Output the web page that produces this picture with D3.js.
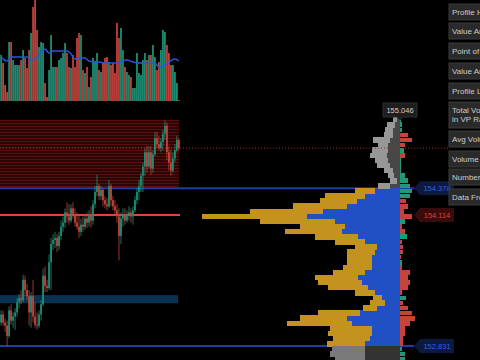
<!DOCTYPE html>
<html>
<head>
<meta charset="utf-8">
<script src="https://cdn.jsdelivr.net/npm/d3@7"></script>
<style>
html, body { margin: 0; padding: 0; background: #000; overflow: hidden; }
svg { display: block; font-family: "Liberation Sans", Arial, sans-serif; }
</style>
</head>
<body>
<svg width="480" height="360"></svg>
<script>
const width = 480;
const height = 360;

// candles (price)
const opens = [153.06,153.14,153.06,153.03,152.93,153.18,153.08,153.12,153.16,153.26,
  153.30,153.28,153.48,153.38,153.32,153.16,153.32,153.12,153.04,153.03,
  153.14,153.24,153.52,153.42,153.40,153.65,153.83,153.87,153.89,153.81,
  153.91,154.00,154.04,154.14,154.10,154.06,154.18,154.12,154.04,154.00,
  153.95,154.02,154.00,154.08,154.04,154.12,154.06,154.22,154.34,154.40,
  154.30,154.36,154.26,154.22,154.20,154.40,154.26,154.20,154.16,154.10,
  153.91,154.08,154.12,154.06,154.12,154.14,154.10,154.16,154.26,154.34,
  154.40,154.50,154.59,154.73,154.59,154.73,154.57,154.71,154.87,154.81,
  154.77,154.83,154.91,154.99,154.73,154.63,154.55,154.67,154.75,154.85];
const highs = [153.18,153.18,153.10,153.08,153.22,153.24,153.16,153.20,153.30,153.34,
  153.38,153.53,153.52,153.44,153.38,153.36,153.48,153.26,153.16,153.18,
  153.28,153.59,153.61,153.48,153.73,153.89,153.93,153.95,153.93,153.95,
  154.06,154.10,154.18,154.24,154.22,154.22,154.24,154.18,154.14,154.12,
  154.08,154.10,154.12,154.14,154.16,154.20,154.26,154.40,154.51,154.42,
  154.40,154.38,154.30,154.28,154.46,154.42,154.30,154.26,154.22,154.18,
  154.14,154.18,154.18,154.16,154.20,154.18,154.20,154.30,154.38,154.46,
  154.53,154.63,154.77,154.79,154.79,154.79,154.75,154.93,154.93,154.89,
  154.87,154.95,155.04,155.02,154.79,154.75,154.73,154.81,154.89,154.87];
const lows = [153.03,153.03,152.97,152.83,152.91,153.04,153.01,152.99,153.12,153.20,
  153.24,153.26,153.32,153.28,153.03,153.01,153.06,153.01,152.99,153.01,
  153.08,153.22,153.36,153.36,153.38,153.38,153.77,153.79,153.75,153.77,
  153.87,153.95,153.99,154.04,154.02,154.04,154.08,154.00,153.97,153.89,
  153.91,153.95,153.97,153.99,154.00,153.99,154.02,154.18,154.30,154.26,
  154.26,154.20,154.18,154.16,154.18,154.20,154.16,154.12,154.04,153.67,
  153.83,154.00,154.02,154.04,154.06,154.04,154.02,154.14,154.22,154.26,
  154.34,154.34,154.50,154.53,154.57,154.51,154.53,154.69,154.77,154.75,
  154.73,154.75,154.85,154.65,154.55,154.50,154.53,154.63,154.73,154.75];
const closes = [153.14,153.06,153.03,152.93,153.18,153.08,153.12,153.16,153.26,153.30,
  153.28,153.48,153.38,153.32,153.16,153.32,153.12,153.04,153.03,153.14,
  153.24,153.52,153.42,153.40,153.65,153.83,153.87,153.89,153.81,153.91,
  154.00,154.04,154.14,154.10,154.06,154.18,154.12,154.04,154.00,153.95,
  154.02,154.00,154.08,154.04,154.12,154.06,154.22,154.34,154.40,154.30,
  154.36,154.26,154.22,154.20,154.40,154.26,154.20,154.16,154.10,153.91,
  154.08,154.12,154.06,154.12,154.14,154.10,154.16,154.26,154.34,154.40,
  154.50,154.59,154.73,154.59,154.73,154.57,154.71,154.87,154.81,154.77,
  154.83,154.91,154.99,154.73,154.63,154.55,154.67,154.75,154.85,154.77];

// volume per bar
const volumes = [46,38,16,9,59,59,41,36,36,36,
  41,51,43,33,51,68,94,101,71,54,
  59,58,18,4,31,66,34,34,34,41,
  43,48,58,48,34,33,46,34,63,68,
  66,31,28,34,14,24,43,39,48,31,
  29,38,43,44,39,36,38,28,78,63,
  73,51,34,29,26,24,13,13,48,28,
  26,41,48,41,46,46,56,44,31,39,
  51,71,69,56,48,36,36,29,18,1];

// volume moving average, read at these bars
const maIdx = [0,3,5,10,13,15,18,20,22,24,26,33,35,37,39,42,44,49,53,58,60,63,66,69,74,77,79,82,84,87,89];
const maVal = [44,40,44,44,44,41,44,49,52,48,50,50,47,42,43,43,40,39,38,38,39,41,39,38,38,38,34,36,39,42,40];

// levels
const profileHigh = 155.046;
const vaHigh = 154.378;
const pocPrice = 154.114;
const vaLow = 152.831;
const lastPrice = 154.77;
const supplyZone = [155.05, 154.39];
const demandZone = [153.33, 153.25];

// volume profile rows, top to bottom (14 above VA, 31 in VA, 3 below)
const profUp = [3,5,7,7,10,12,12,13,12,10,7,6,3,10,
  25,35,43,53,77,93,65,55,58,42,35,23,25,28,28,28,35,42,38,32,25,18,15,23,40,53,48,28,28,30,35,
  35,35,35];
const profDown = [4,8,8,9,17,10,16,17,13,13,9,6,7,12,
  20,40,37,54,73,105,75,45,57,43,30,22,28,25,25,29,32,43,44,40,20,9,15,14,42,47,65,42,44,37,38,
  33,35,30];
const profDelta = [1,2,2,-8,-12,-5,4,-5,1,1,1,5,8,10,
  12,10,-6,-8,-4,-12,5,-2,-5,7,-2,-3,-3,-1,2,-2,-10,-8,-10,-8,-2,6,-3,-8,-12,-15,-10,-5,-5,-3,-3,
  2,5,5];

const tableLabels = [["Profile High"], ["Value Area High"], ["Point of Control"], ["Value Area Low"],
  ["Profile Low"], ["Total Volume", "in VP Range"], ["Avg Volume/Bar"], ["Volume Analysis"],
  ["Number of Bars"], ["Data From"]];

const UP = "#1e8f74", DOWN = "#c4433b";

const svg = d3.select("svg").attr("viewBox", [0, 0, width, height]);
svg.append("rect").attr("width", width).attr("height", height).attr("fill", "#000");

const idx = d3.range(closes.length);
const x = d3.scaleBand().domain(idx).range([0, 180]).padding(0.12);
const y = d3.scaleLinear().domain([vaLow, profileHigh]).range([346, 120]);
const yVol = d3.scaleLinear().domain([0, 101]).range([101, 0]);

// volume panel
svg.append("g").selectAll("rect")
  .data(idx)
  .join("rect")
  .attr("x", i => x(i))
  .attr("y", i => yVol(volumes[i]))
  .attr("width", x.bandwidth())
  .attr("height", i => yVol(0) - yVol(volumes[i]))
  .attr("fill", i => closes[i] >= opens[i] ? UP : DOWN);

svg.append("path")
  .datum(maIdx)
  .attr("fill", "none")
  .attr("stroke", "#2a56d6")
  .attr("stroke-width", 1.5)
  .attr("d", d3.line()
    .x(i => x(i) + x.bandwidth() / 2)
    .y((i, k) => yVol(maVal[k]))
    .curve(d3.curveMonotoneX));

// supply zone
const zone = svg.append("g");
zone.append("rect")
  .attr("x", 0).attr("width", 179)
  .attr("y", y(supplyZone[0]))
  .attr("height", y(supplyZone[1]) - y(supplyZone[0]))
  .attr("fill", "#2a0505");
zone.selectAll("line")
  .data(d3.range(y(supplyZone[0]) + 1, y(supplyZone[1]), 3))
  .join("line")
  .attr("x1", 0).attr("x2", 179)
  .attr("y1", d => d).attr("y2", d => d)
  .attr("stroke", "#5e1010")
  .attr("stroke-width", 1);

// demand zone
svg.append("rect")
  .attr("x", 0).attr("width", 178)
  .attr("y", y(demandZone[0]))
  .attr("height", y(demandZone[1]) - y(demandZone[0]))
  .attr("fill", "#0b3150");

// value area lines
svg.selectAll(".va")
  .data([vaHigh, vaLow])
  .join("line")
  .attr("class", "va")
  .attr("x1", 0).attr("x2", 414)
  .attr("y1", d => y(d)).attr("y2", d => y(d))
  .attr("stroke", "#1d3ea3")
  .attr("stroke-width", 2);

// poc line
svg.append("line")
  .attr("x1", 0).attr("x2", 180)
  .attr("y1", y(pocPrice)).attr("y2", y(pocPrice))
  .attr("stroke", "#e8403a")
  .attr("stroke-width", 2);

// candles
const candles = svg.append("g");
candles.selectAll("line")
  .data(idx)
  .join("line")
  .attr("x1", i => x(i) + x.bandwidth() / 2)
  .attr("x2", i => x(i) + x.bandwidth() / 2)
  .attr("y1", i => y(highs[i]))
  .attr("y2", i => y(lows[i]))
  .attr("stroke", i => closes[i] >= opens[i] ? UP : DOWN)
  .attr("stroke-width", 0.8);
candles.selectAll("rect")
  .data(idx)
  .join("rect")
  .attr("x", i => x(i))
  .attr("width", x.bandwidth())
  .attr("y", i => y(Math.max(opens[i], closes[i])))
  .attr("height", i => Math.max(1, Math.abs(y(opens[i]) - y(closes[i]))))
  .attr("fill", i => closes[i] >= opens[i] ? UP : DOWN);

// volume profile
const rowStep = (vaHigh - vaLow) / 31;
const rowTop = i => vaHigh + (14 - i) * rowStep;
const inVA = i => i >= 14 && i <= 44;
const px = d3.scaleLinear().domain([0, 198]).range([0, 198]);
const pRight = 400;
const rows = d3.range(profUp.length);

const prof = svg.append("g").attr("shape-rendering", "crispEdges");
prof.selectAll(".up")
  .data(rows)
  .join("rect")
  .attr("class", "up")
  .attr("x", i => pRight - px(profUp[i]))
  .attr("width", i => px(profUp[i]))
  .attr("y", i => y(rowTop(i)))
  .attr("height", i => y(rowTop(i) - rowStep) - y(rowTop(i)) + 0.5)
  .attr("fill", i => inVA(i) ? "#2050c4" : (i < 14 ? "#474747" : "#333"));
prof.selectAll(".down")
  .data(rows)
  .join("rect")
  .attr("class", "down")
  .attr("x", i => pRight - px(profUp[i] + profDown[i]))
  .attr("width", i => px(profDown[i]))
  .attr("y", i => y(rowTop(i)))
  .attr("height", i => y(rowTop(i) - rowStep) - y(rowTop(i)) + 0.5)
  .attr("fill", i => inVA(i) ? "#c4931f" : (i < 14 ? "#979797" : "#7a7a7a"));
prof.selectAll(".delta")
  .data(rows)
  .join("rect")
  .attr("class", "delta")
  .attr("x", pRight)
  .attr("width", i => px(Math.abs(profDelta[i])))
  .attr("y", i => y(rowTop(i)) + 0.5)
  .attr("height", i => y(rowTop(i) - rowStep) - y(rowTop(i)) - 0.5)
  .attr("fill", i => profDelta[i] >= 0 ? "#1e9a7a" : "#c4433b");

// last price
svg.append("line")
  .attr("x1", 0).attr("x2", 449)
  .attr("y1", y(lastPrice)).attr("y2", y(lastPrice))
  .attr("stroke", "#a82a2a")
  .attr("stroke-dasharray", "1,2");

// profile high label
const yh = y(profileHigh);
svg.append("path")
  .attr("d", `M383,${yh - 17}H417V${yh - 3}H403L400,${yh}L397,${yh - 3}H383Z`)
  .attr("fill", "#1e1e1e")
  .attr("stroke", "#2e2e2e");
svg.append("text")
  .attr("x", 400).attr("y", yh - 7)
  .attr("text-anchor", "middle")
  .attr("font-size", 7.5)
  .attr("fill", "#cfcfcf")
  .text(profileHigh.toFixed(3));

// level labels
const levelLabels = [
  { p: vaHigh, bg: "#0d1a3e", fg: "#2f63e0" },
  { p: pocPrice, bg: "#3a0b0b", fg: "#e0403a" },
  { p: vaLow, bg: "#0d1a3e", fg: "#2f63e0" }
];
const lab = svg.append("g").selectAll("g")
  .data(levelLabels)
  .join("g")
  .attr("transform", d => `translate(414,${y(d.p)})`);
lab.append("path")
  .attr("d", "M0,0L6,-7H40V7H6Z")
  .attr("fill", d => d.bg);
lab.append("text")
  .attr("x", 23).attr("y", 2.8)
  .attr("text-anchor", "middle")
  .attr("font-size", 7.5)
  .attr("fill", d => d.fg)
  .text(d => d.p.toFixed(3));

// stats table (runs off the right edge, as in the original)
const cellTops = [4, 23, 43, 63, 83, 102, 131, 151, 169, 189];
const cell = svg.append("g").selectAll("g")
  .data(tableLabels)
  .join("g")
  .attr("transform", (d, i) => `translate(449,${cellTops[i]})`);
cell.append("rect")
  .attr("width", 40)
  .attr("height", d => d.length > 1 ? 26 : 16)
  .attr("fill", "#2a2a2a")
  .attr("stroke", "#3a3a3a");
cell.append("text")
  .attr("font-size", 8)
  .attr("fill", "#cccccc")
  .selectAll("tspan")
  .data(d => d)
  .join("tspan")
  .attr("x", 3)
  .attr("y", (t, k) => 11 + k * 9)
  .text(t => t);
</script>
</body>
</html>
